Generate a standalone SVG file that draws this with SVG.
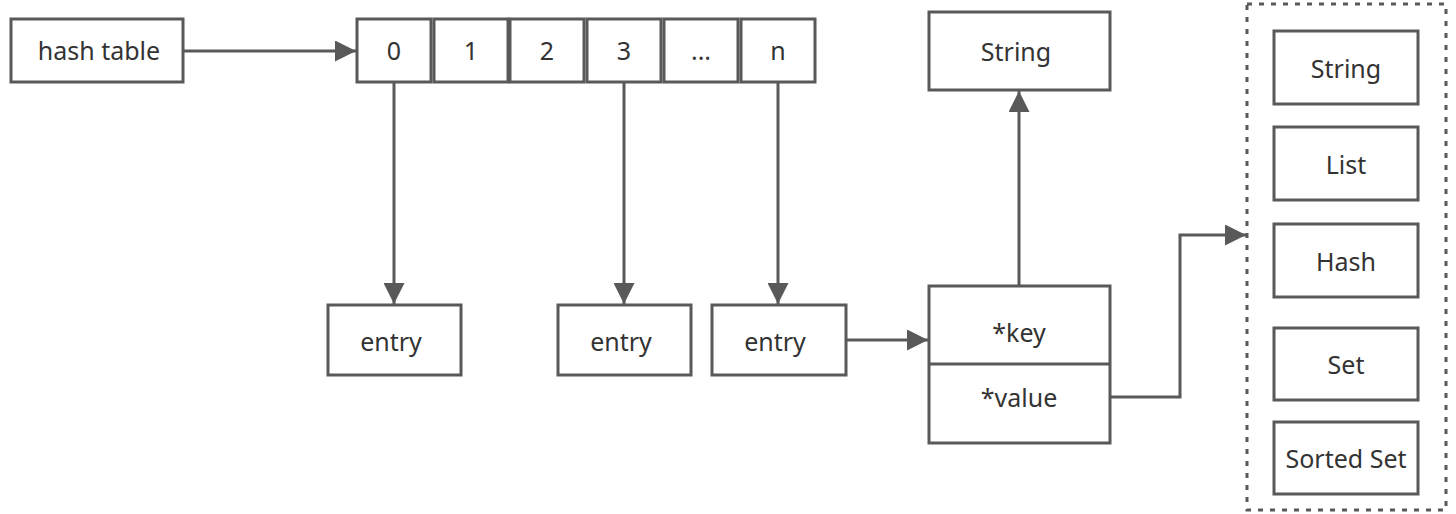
<svg xmlns="http://www.w3.org/2000/svg" width="1456" height="514" viewBox="0 0 1456 514">
<defs>
<style>
.box{fill:#fff;stroke:#595959;stroke-width:3}
.t{font-family:"Noto Sans","Open Sans",sans-serif;font-size:25px;fill:#333;text-anchor:middle;dominant-baseline:central}
.c{fill:none;stroke:#595959;stroke-width:3}
.dash{fill:none;stroke:#595959;stroke-width:3;stroke-dasharray:5 7}
</style>
<marker id="ah" viewBox="0 0 10 10" refX="10" refY="5" markerWidth="7" markerHeight="7" markerUnits="strokeWidth" orient="auto">
<path d="M0,0 L10,5 L0,10 Z" fill="#595959"/>
</marker>
</defs>
<rect width="1456" height="514" fill="#fff"/>
<g id="connectors">
<path class="c" d="M183,51 H356" marker-end="url(#ah)"/>
<path class="c" d="M394,82 V304" marker-end="url(#ah)"/>
<path class="c" d="M624,82 V304" marker-end="url(#ah)"/>
<path class="c" d="M778,82 V304" marker-end="url(#ah)"/>
<path class="c" d="M846,340 H928" marker-end="url(#ah)"/>
<path class="c" d="M1019,286 V91" marker-end="url(#ah)"/>
<path class="c" d="M1110,397 H1180 V235 H1246" marker-end="url(#ah)"/>
</g>
<g id="hashtable"><rect class="box" x="11" y="19" width="172" height="63"/><text class="t" x="99" y="50">hash table</text></g>
<g id="cell0"><rect class="box" x="357" y="19" width="74" height="63"/><text class="t" x="394" y="50">0</text></g>
<g id="cell1"><rect class="box" x="434" y="19" width="74" height="63"/><text class="t" x="471" y="50">1</text></g>
<g id="cell2"><rect class="box" x="510" y="19" width="74" height="63"/><text class="t" x="547" y="50">2</text></g>
<g id="cell3"><rect class="box" x="587" y="19" width="74" height="63"/><text class="t" x="624" y="50">3</text></g>
<g id="cellDots"><rect class="box" x="664" y="19" width="74" height="63"/><text class="t" x="701" y="50">...</text></g>
<g id="cellN"><rect class="box" x="741" y="19" width="74" height="63"/><text class="t" x="778" y="50">n</text></g>
<g id="entry1"><rect class="box" x="328" y="305" width="133" height="70"/><text class="t" x="391" y="341">entry</text></g>
<g id="entry2"><rect class="box" x="558" y="305" width="133" height="70"/><text class="t" x="621" y="341">entry</text></g>
<g id="entry3"><rect class="box" x="712" y="305" width="134" height="70"/><text class="t" x="775" y="341">entry</text></g>
<g id="keyvalue"><rect class="box" x="929" y="286" width="181" height="157"/><line class="c" x1="929" y1="364" x2="1110" y2="364"/><text class="t" x="1019" y="332">*key</text><text class="t" x="1019" y="397">*value</text></g>
<g id="stringKey"><rect class="box" x="929" y="12" width="181" height="78"/><text class="t" x="1016" y="51">String</text></g>
<g id="types">
<rect class="dash" x="1247" y="4" width="199" height="506"/>
<g id="tString"><rect class="box" x="1274" y="31" width="144" height="73"/><text class="t" x="1346" y="68">String</text></g>
<g id="tList"><rect class="box" x="1274" y="127" width="144" height="73"/><text class="t" x="1346" y="164">List</text></g>
<g id="tHash"><rect class="box" x="1274" y="224" width="144" height="73"/><text class="t" x="1346" y="261">Hash</text></g>
<g id="tSet"><rect class="box" x="1274" y="328" width="144" height="72"/><text class="t" x="1346" y="364">Set</text></g>
<g id="tSorted"><rect class="box" x="1274" y="422" width="144" height="72"/><text class="t" x="1346" y="458">Sorted Set</text></g>
</g>
</svg>
